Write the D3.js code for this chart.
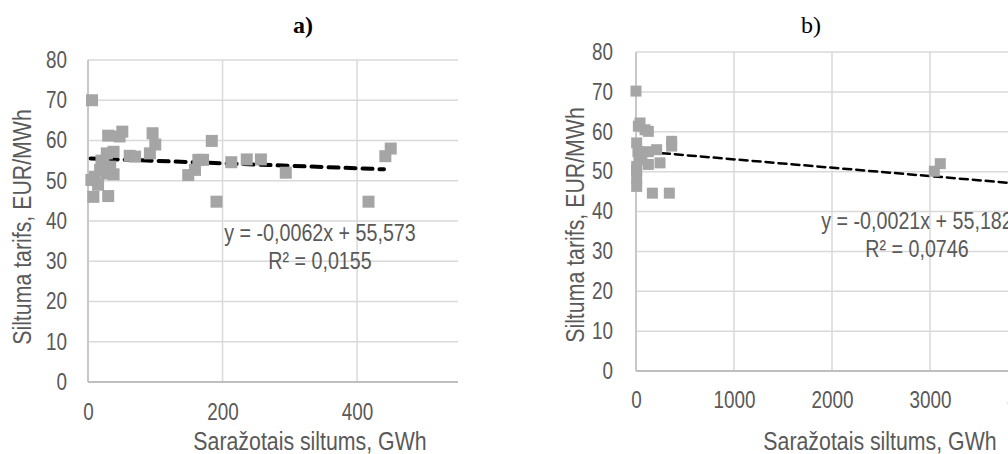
<!DOCTYPE html>
<html>
<head>
<meta charset="utf-8">
<script src="https://cdn.jsdelivr.net/npm/d3@7"></script>
<style>
  body { margin: 0; background: #fff; }
  svg { display: block; }
  .tick text, .eq, .axis_label { font-family: "Liberation Sans", Arial, sans-serif; fill: #595959; }
  .tick text { font-size: 23px; }
  .eq { font-size: 24px; }
  .axis_label { font-size: 26px; }
  .panel_title { font-family: "Liberation Serif", "Times New Roman", serif; font-size: 24px; fill: #000; }
</style>
</head>
<body>
<svg width="1008" height="454"></svg>
<script>
/* global d3 */

// a) small producers
var xA = [6, 30, 51, 47, 96, 100, 92, 62, 70, 38, 28, 23, 18, 38, 28, 10, 5, 15, 8, 30,
  184, 164, 171, 159, 149, 191, 213, 236, 257, 294, 417, 442, 450, 20, 33];
var yA = [70, 61.2, 62.2, 61, 61.8, 59, 56.8, 56.2, 56, 57.2, 56.8, 54, 52.7, 51.6, 51.8, 51, 50.2, 49, 46, 46.2,
  59.9, 55.2, 55.2, 52.7, 51.4, 44.8, 54.6, 55.3, 55.3, 52, 44.8, 56.1, 58, 55, 53.5];

// b) all producers
var xB = [0, 41, 24, 92, 126, 364, 364, 7, 20, 211, 126, 245, 7, 126, 7, 7, 7, 167, 340, 3044, 3105, 60, 30];
var yB = [70.2, 62.2, 61.4, 60.5, 60.1, 57.6, 56.4, 57.2, 55, 55.5, 55, 52.2, 51.3, 51.8, 50.3, 48.4, 46.3,
  44.6, 44.6, 50.1, 52, 53, 53.5];

var yTicks = [0, 10, 20, 30, 40, 50, 60, 70, 80];
var xTicksA = [0, 200, 400];
var xTicksB = [0, 1000, 2000, 3000, 4000];

var trendA = { slope: -0.0062, icpt: 55.573, r2: "0,0155", from: 4, to: 440 };
var trendB = { slope: -0.0021, icpt: 55.182, r2: "0,0746", from: 0, to: 4000 };

var narrow = 0.82; // Arial Narrow look
var svg = d3.select("svg");

function fmt(v) {
  return String(v).replace(".", ",");
}

function panel(o) {
  var g = svg.append("g");
  var x = d3.scaleLinear().domain(o.xDomain).range([o.left, o.right]);
  var y = d3.scaleLinear().domain([0, 80]).range([o.bottom, o.top]);

  // horizontal grid
  g.selectAll("line.hg")
    .data(yTicks.slice(1))
    .enter()
    .append("line")
    .attr("x1", o.left)
    .attr("x2", o.gridRight)
    .attr("y1", d => y(d))
    .attr("y2", d => y(d))
    .style("stroke", "#d9d9d9")
    .style("stroke-width", 1.5);

  // vertical grid
  g.selectAll("line.vg")
    .data(o.xTicks.slice(1))
    .enter()
    .append("line")
    .attr("x1", d => x(d))
    .attr("x2", d => x(d))
    .attr("y1", o.top)
    .attr("y2", o.bottom)
    .style("stroke", "#d9d9d9")
    .style("stroke-width", 1.5);

  // axis lines
  g.append("line")
    .attr("x1", o.left).attr("x2", o.left)
    .attr("y1", o.top).attr("y2", o.bottom)
    .style("stroke", "#c8c8c8").style("stroke-width", 2);
  g.append("line")
    .attr("x1", o.left).attr("x2", o.gridRight)
    .attr("y1", o.bottom).attr("y2", o.bottom)
    .style("stroke", "#bfbfbf").style("stroke-width", 2);

  // tick labels
  var ax = g.append("g")
    .attr("transform", "translate(0," + o.xTickBase + ")")
    .call(d3.axisBottom(x).tickValues(o.xTicks).tickSize(0).tickPadding(0).tickFormat(d3.format("d")));
  ax.select(".domain").remove();
  ax.selectAll("text").attr("dy", 0).attr("y", 0).attr("transform", "scale(" + narrow + ",1)");

  var ay = g.append("g")
    .attr("transform", "translate(" + o.yTickX + ",0)")
    .call(d3.axisLeft(y).tickValues(yTicks).tickSize(0).tickPadding(0));
  ay.select(".domain").remove();
  ay.selectAll("text").attr("x", 0).attr("transform", "scale(" + narrow + ",1)");

  // trend line
  var tr = o.trend;
  g.append("line")
    .attr("x1", x(tr.from))
    .attr("x2", x(tr.to))
    .attr("y1", y(tr.icpt + tr.slope * tr.from))
    .attr("y2", y(tr.icpt + tr.slope * tr.to))
    .style("stroke", "#000")
    .style("stroke-width", o.trendWidth)
    .style("stroke-linecap", "round")
    .style("stroke-dasharray", o.dash);

  // points
  var pts = o.xs.map((v, i) => ({ x: v, y: o.ys[i] }));
  var s = o.marker;
  g.selectAll("rect.pt")
    .data(pts)
    .enter()
    .append("rect")
    .attr("class", "pt")
    .attr("x", d => x(d.x) - s / 2)
    .attr("y", d => y(d.y) - s / 2)
    .attr("width", s)
    .attr("height", s)
    .style("fill", "#a5a5a5");

  // equation
  g.append("text")
    .attr("class", "eq")
    .attr("transform", "translate(" + o.eqX + "," + o.eqY + ")scale(" + narrow + ",1)")
    .attr("text-anchor", "middle")
    .text("y = " + fmt(tr.slope) + "x + " + fmt(tr.icpt));
  g.append("text")
    .attr("class", "eq")
    .attr("transform", "translate(" + o.eqX + "," + (o.eqY + 28) + ")scale(" + narrow + ",1)")
    .attr("text-anchor", "middle")
    .text("R² = " + tr.r2);

  // axis titles
  g.append("text")
    .attr("class", "axis_label")
    .attr("text-anchor", "middle")
    .attr("transform", "translate(" + o.xTitleX + ",450)scale(" + narrow + ",1)")
    .text("Saražotais siltums, GWh");
  g.append("text")
    .attr("class", "axis_label")
    .attr("text-anchor", "middle")
    .attr("transform", "translate(" + o.yTitleX + "," + o.yTitleY + ")rotate(-90)scale(" + narrow + ",1)")
    .text("Siltuma tarifs, EUR/MWh");

  // panel letter
  g.append("text")
    .attr("class", "panel_title")
    .attr("x", o.titleX)
    .attr("y", 33)
    .attr("text-anchor", "middle")
    .style("font-weight", o.bold ? "bold" : "normal")
    .text(o.title);
}

panel({
  xs: xA, ys: yA, xTicks: xTicksA, xDomain: [0, 550],
  left: 88, right: 458, gridRight: 458, top: 60, bottom: 382,
  trend: trendA, trendWidth: 4, dash: "10,7", marker: 12,
  xTickBase: 420, yTickX: 67,
  eqX: 320, eqY: 241, xTitleX: 310, yTitleX: 31, yTitleY: 227,
  title: "a)", titleX: 303, bold: true
});

panel({
  xs: xB, ys: yB, xTicks: xTicksB, xDomain: [0, 4000],
  left: 636, right: 1028, gridRight: 1010, top: 52, bottom: 371,
  trend: trendB, trendWidth: 2.5, dash: "8,5", marker: 11,
  xTickBase: 408, yTickX: 613,
  eqX: 917, eqY: 229, xTitleX: 880, yTitleX: 584, yTitleY: 225,
  title: "b)", titleX: 811, bold: false
});
</script>
</body>
</html>
